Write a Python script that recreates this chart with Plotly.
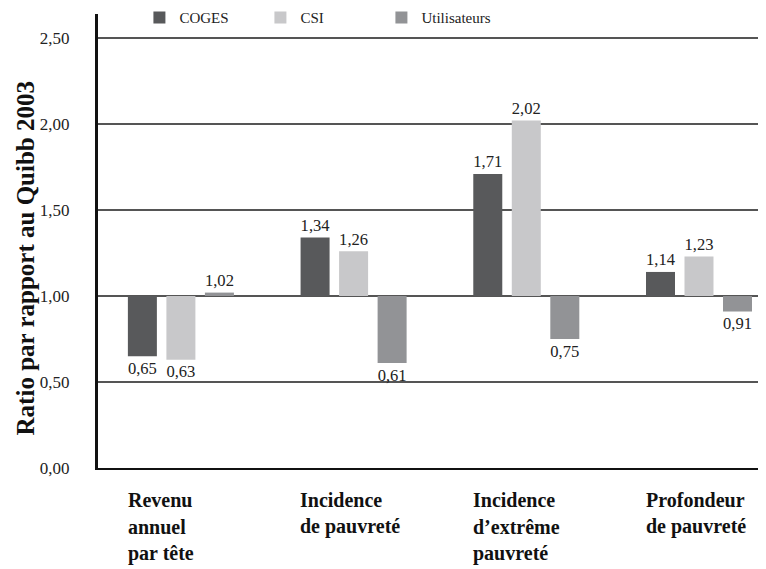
import plotly.graph_objects as go

categories = ["Revenu<br>annuel<br>par tête", "Incidence<br>de pauvreté",
              "Incidence<br>d’extrême<br>pauvreté", "Profondeur<br>de pauvreté"]
series_names = ["COGES", "CSI", "Utilisateurs"]
coges = [0.65, 1.34, 1.71, 1.14]
csi = [0.63, 1.26, 2.02, 1.23]
utilisateurs = [1.02, 0.61, 0.75, 0.91]
colors = ["#58595b", "#c8c8ca", "#929396"]
baseline = 1.0
tick_vals = [0, 0.5, 1.0, 1.5, 2.0, 2.5]

FONT = "'Liberation Serif', 'Times New Roman', Times, serif"
xs = list(range(len(categories)))

# page body has an 8px default margin; compensate so the plot lands at the same place
W, H = 758, 561
PLOT_H = 454

fig = go.Figure()
for name, vals, col in zip(series_names, [coges, csi, utilisateurs], colors):
    fig.add_trace(go.Bar(
        x=xs, y=[v - baseline for v in vals], base=baseline,
        name=name, marker=dict(color=col, line=dict(width=0)),
        text=[f"{v:.2f}".replace(".", ",") for v in vals],
        textposition="outside", cliponaxis=False,
        textfont=dict(family=FONT, size=18, color="#222"),
    ))

for i, c in enumerate(categories):
    for j, line in enumerate(c.split("<br>")):
        fig.add_annotation(x=i - 0.32, y=-(32 + 26.5 * j) / PLOT_H,
                           xref="x", yref="paper",
                           text=f"<b>{line}</b>", showarrow=False, xanchor="left",
                           yanchor="middle", align="left",
                           font=dict(family=FONT, size=20, color="#111"))

fig.add_annotation(x=-0.109, y=0.462, xref="paper", yref="paper",
                   text="<b>Ratio par rapport au Quibb 2003</b>", textangle=-90,
                   showarrow=False, xanchor="center", yanchor="middle",
                   font=dict(family=FONT, size=25, color="#111"))

fig.update_layout(
    width=W, height=H,
    margin=dict(l=90, r=0, t=6, b=101, autoexpand=False),
    paper_bgcolor="white", plot_bgcolor="white",
    barmode="group", bargap=0.331, bargroupgap=0.247,
    separators=", ",
    font=dict(family=FONT, color="#222"),
    showlegend=True,
    legend=dict(orientation="h", x=0.062, y=0.992, xanchor="left",
                yanchor="middle", font=dict(family=FONT, size=15, color="#222"),
                bgcolor="rgba(0,0,0,0)", entrywidth=76, itemwidth=30,
                traceorder="normal"),
    xaxis=dict(range=[-0.48, 3.388], showticklabels=False, showgrid=False,
               zeroline=False, showline=True, linecolor="#111", linewidth=2,
               ticks="", automargin=False),
    yaxis=dict(range=[0, 2.64], tickvals=tick_vals, tickformat=".2f",
               showgrid=True, gridcolor="#555", gridwidth=2, zeroline=False,
               showline=True, linecolor="#111", linewidth=3, ticks="",
               ticklabelstandoff=22, automargin=False,
               tickfont=dict(family=FONT, size=17, color="#222")),
)

fig.write_html("out.html")
